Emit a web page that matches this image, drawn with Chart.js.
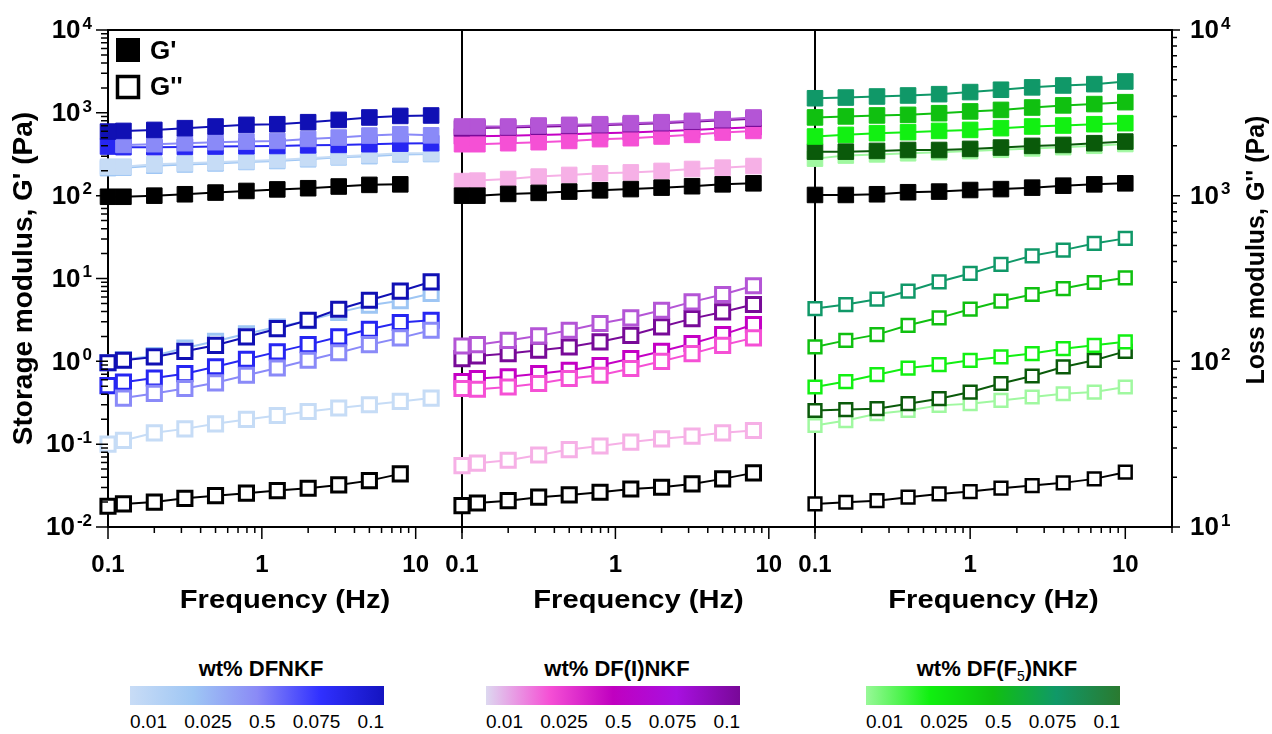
<!DOCTYPE html>
<html>
<head>
<meta charset="utf-8">
<script src="https://cdn.jsdelivr.net/npm/chart.js@4.4.1/dist/chart.umd.min.js"></script>
<style>
    body { margin: 0; background: #fff; width: 1272px; height: 734px; position: relative; overflow: hidden;
           font-family: 'Liberation Sans', Arial, sans-serif; }
    canvas { position: absolute; top: 0; }
    #c1 { left: 0; }
    #c2 { left: 440px; }
    #c3 { left: 793px; }
    .cb { position: absolute; top: 655px; width: 254px; }
    .cbt { text-align: center; font-weight: bold; font-size: 22px; height: 28px; line-height: 28px; margin-left: 8px; }
    .cbt sub { font-size: 14px; font-weight: normal; }
    .bar { height: 19px; margin-top: 3px; }
    .lbl { display: flex; justify-content: space-between; font-size: 19px; margin-top: 6px; }
</style>
</head>
<body>
<canvas id="c1" width="470" height="640"></canvas>
<canvas id="c2" width="385" height="640"></canvas>
<canvas id="c3" width="479" height="640"></canvas>
<div id="bars"></div>
<script>
const FONT = "'Liberation Sans', Arial, sans-serif";

// frequencies (Hz)
const freq1 = [0.1, 0.126, 0.2, 0.316, 0.5, 0.794, 1.26, 2, 3.16, 5, 7.94, 12.6];
const freq2 = [0.1, 0.126, 0.2, 0.316, 0.5, 0.794, 1.26, 2, 3.16, 5, 7.94];
const freq3 = [0.1, 0.158, 0.251, 0.398, 0.631, 1, 1.58, 2.51, 3.98, 6.31, 10];

// panel 1 - DFNKF  (Gp = G', Gpp = G'')
const p1Ctrl_Gp   = [97, 97, 100, 104, 109, 114, 119, 123, 129, 135, 137];
const p1Ctrl_Gpp  = [0.0178, 0.019, 0.020, 0.0222, 0.0239, 0.0256, 0.0275, 0.0294, 0.0322, 0.0363, 0.0438];
const p1_001_Gp   = [224, 224, 239, 246, 253, 262, 270, 283, 297, 310, 325, 325];
const p1_001_Gpp  = [0.10, 0.111, 0.137, 0.153, 0.176, 0.199, 0.222, 0.248, 0.273, 0.299, 0.328, 0.36];
const p1_0025_Gp  = [215, 218, 230, 238, 245, 255, 262, 275, 290, 300, 315, 318];
const p1_0025_Gpp = [0.96, 1.05, 1.17, 1.45, 1.75, 2.15, 2.6, 3.1, 3.9, 4.75, 5.4, 6.6];
const p1_05_Gp    = [null, 410, 418, 430, 442, 450, 458, 484, 503, 532, 552, 535];
const p1_05_Gpp   = [null, 0.36, 0.41, 0.47, 0.55, 0.68, 0.83, 1.03, 1.27, 1.59, 1.92, 2.37];
const p1_0075_Gp  = [392, 385, 385, 388, 392, 395, 398, 405, 410, 418, 425, 430];
const p1_0075_Gpp = [0.51, 0.56, 0.63, 0.71, 0.86, 1.06, 1.30, 1.59, 1.97, 2.44, 2.94, 3.13];
const p1_01_Gp    = [594, 605, 622, 653, 684, 716, 729, 771, 822, 879, 918, 929];
const p1_01_Gpp   = [0.96, 1.03, 1.13, 1.32, 1.56, 1.97, 2.48, 3.13, 4.26, 5.47, 7.03, 9.12];

// panel 2 - DF(I)NKF
const p2Ctrl_Gp   = [100, 100, 105, 108, 112, 116, 120, 125, 130, 137, 141];
const p2Ctrl_Gpp  = [0.0181, 0.0195, 0.0208, 0.0229, 0.0244, 0.0263, 0.0288, 0.0302, 0.0331, 0.0381, 0.045];
const p2_001_Gp   = [150, 152, 159, 170, 178, 186, 191, 199, 210, 218, 228];
const p2_001_Gpp  = [0.055, 0.059, 0.064, 0.074, 0.086, 0.095, 0.106, 0.116, 0.125, 0.137, 0.146];
const p2_0025_Gp  = [418, 418, 430, 442, 458, 481, 494, 518, 542, 578, 605];
const p2_0025_Gpp = [0.47, 0.46, 0.49, 0.54, 0.62, 0.68, 0.82, 1.0, 1.24, 1.56, 1.92];
const p2_05_Gp    = [520, 520, 530, 540, 552, 565, 580, 598, 620, 645, 670];
const p2_05_Gpp   = [0.57, 0.62, 0.65, 0.71, 0.78, 0.89, 1.08, 1.32, 1.64, 2.10, 2.78];
const p2_0075_Gp  = [684, 684, 684, 703, 716, 729, 750, 771, 800, 838, 879];
const p2_0075_Gpp = [1.53, 1.59, 1.79, 2.03, 2.37, 2.86, 3.35, 4.14, 5.22, 6.41, 8.17];
const p2_01_Gp    = [650, 655, 665, 680, 695, 710, 730, 750, 780, 815, 850];
const p2_01_Gpp   = [1.08, 1.16, 1.24, 1.36, 1.49, 1.72, 2.06, 2.61, 3.28, 3.95, 4.85];

// panel 3 - DF(F5)NKF
const p3Ctrl_Gp   = [102, 102, 104, 110, 112, 117, 120, 125, 132, 137, 141];
const p3Ctrl_Gpp  = [0.019, 0.0199, 0.0208, 0.0229, 0.0251, 0.0268, 0.0294, 0.0316, 0.0341, 0.0381, 0.0459];
const p3_001_Gp   = [280, 305, 315, 325, 335, 345, 358, 372, 385, 400, 420];
const p3_001_Gpp  = [0.168, 0.193, 0.233, 0.255, 0.294, 0.308, 0.337, 0.371, 0.406, 0.426, 0.49];
const p3_0025_Gp  = [518, 542, 568, 584, 605, 622, 653, 684, 703, 729, 750];
const p3_0025_Gpp = [0.49, 0.57, 0.69, 0.83, 0.91, 1.03, 1.13, 1.24, 1.42, 1.56, 1.72];
const p3_05_Gp    = [880, 905, 930, 945, 990, 1040, 1085, 1160, 1230, 1275, 1345];
const p3_05_Gpp   = [1.49, 1.79, 2.10, 2.72, 3.35, 4.26, 5.32, 6.41, 7.57, 8.95, 10.2];
const p3_0075_Gp  = [1500, 1530, 1575, 1620, 1680, 1780, 1900, 2030, 2140, 2220, 2390];
const p3_0075_Gpp = [4.34, 4.85, 5.62, 7.03, 9.12, 11.5, 14.8, 18.8, 22.0, 26.5, 30.5];
const p3_01_Gp    = [340, 340, 347, 356, 356, 367, 381, 399, 410, 430, 450];
const p3_01_Gpp   = [0.255, 0.262, 0.268, 0.308, 0.354, 0.426, 0.54, 0.665, 0.855, 1.03, 1.32];

// colour bars
const concLabels = ['0.01', '0.025', '0.5', '0.075', '0.1'];
const barTitles = ['wt% DFNKF', 'wt% DF(I)NKF', 'wt% DF(F<sub>5</sub>)NKF'];
const barBlue  = ['#c8dcf6', '#9ec6f4', '#8a8af6', '#3030ff', '#1414c0'];
const barPink  = ['#ddd8f0', '#f550d5', '#c000c0', '#a810e0', '#780898'];
const barGreen = ['#98f898', '#10f010', '#10c010', '#109868', '#2a7a30'];

const blues  = { c001: '#c6dcf6', c0025: '#9ec6f4', c05: '#8a8af8', c0075: '#2626f2', c01: '#1010b4' };
const pinks  = { c001: '#f6b0e6', c0025: '#f550d5', c05: '#c400c4', c0075: '#b455d6', c01: '#780a98' };
const greens = { c001: '#a0f8a0', c0025: '#12f012', c05: '#10c010', c0075: '#109868', c01: '#0a5a0a' };

Chart.defaults.font.family = FONT;
Chart.defaults.animation = false;

function isMajor(v) {
    const l = Math.log10(v);
    return Math.abs(l - Math.round(l)) < 1e-6;
}

function logTicks(min, max) {
    const out = [];
    for (let e = Math.floor(Math.log10(min)); e <= Math.ceil(Math.log10(max)); e++) {
        for (let m = 1; m < 10; m++) {
            const v = m * Math.pow(10, e);
            if (v >= min * 0.999 && v <= max * 1.001) out.push({ value: v });
        }
    }
    return out;
}

function pts(freqs, vals) {
    return vals.map((v, i) => v == null ? null : { x: freqs[i], y: v }).filter(Boolean);
}

function supLabel(ctx, v, x, y, align) {
    const exp = String(Math.round(Math.log10(v)));
    ctx.font = 'bold 26px ' + FONT;
    const w = ctx.measureText('10').width;
    ctx.font = 'bold 17px ' + FONT;
    const we = ctx.measureText(exp).width;
    const x0 = align === 'right' ? x - w - we - 2 : x;
    ctx.textAlign = 'left';
    ctx.textBaseline = 'middle';
    ctx.font = 'bold 26px ' + FONT;
    ctx.fillText('10', x0, y + 1);
    ctx.font = 'bold 17px ' + FONT;
    ctx.fillText(exp, x0 + w + 2, y - 6);
}

const decor = {
    id: 'decor',
    beforeDatasetsDraw(chart) {
        const { ctx, chartArea: a } = chart;
        ctx.save();
        ctx.strokeStyle = '#000';
        ctx.lineWidth = 2;
        ctx.strokeRect(a.left, a.top, a.right - a.left, a.bottom - a.top);
        ctx.restore();
    },
    afterDraw(chart, args, o) {
        const { ctx, chartArea: a, scales } = chart;
        ctx.save();
        ctx.strokeStyle = '#000';
        ctx.fillStyle = '#000';
        ctx.lineWidth = 1.5;
        ctx.beginPath();
        scales.x.ticks.forEach(t => {
            const p = scales.x.getPixelForValue(t.value);
            ctx.moveTo(p, a.bottom);
            ctx.lineTo(p, a.bottom + (isMajor(t.value) ? 12 : 6));
        });
        if (o.left) {
            scales.y.ticks.forEach(t => {
                const p = scales.y.getPixelForValue(t.value);
                ctx.moveTo(a.left, p);
                ctx.lineTo(a.left - (isMajor(t.value) ? 12 : 7), p);
            });
        }
        if (o.right) {
            scales.y2.ticks.forEach(t => {
                const p = scales.y2.getPixelForValue(t.value);
                ctx.moveTo(a.right, p);
                ctx.lineTo(a.right + (isMajor(t.value) ? 8 : 5), p);
            });
        }
        ctx.stroke();

        // x title
        ctx.font = 'bold 26px ' + FONT;
        ctx.textAlign = 'center';
        ctx.textBaseline = 'alphabetic';
        ctx.save();
        ctx.translate((a.left + a.right) / 2, 608);
        ctx.scale(1.12, 1);
        ctx.fillText('Frequency (Hz)', 0, 0);
        ctx.restore();

        if (o.left) {
            scales.y.ticks.filter(t => isMajor(t.value)).forEach(t => {
                supLabel(ctx, t.value, 92, scales.y.getPixelForValue(t.value), 'right');
            });
            ctx.save();
            ctx.translate(24, (a.top + a.bottom) / 2);
            ctx.rotate(-Math.PI / 2);
            ctx.font = 'bold 28px ' + FONT;
            ctx.textAlign = 'center';
            ctx.textBaseline = 'middle';
            ctx.fillText("Storage modulus, G' (Pa)", 0, 0);
            ctx.restore();
        }
        if (o.right) {
            scales.y2.ticks.filter(t => isMajor(t.value)).forEach(t => {
                supLabel(ctx, t.value, a.right + 18, scales.y2.getPixelForValue(t.value), 'left');
            });
            ctx.save();
            ctx.translate(a.right + 85, 250);
            ctx.rotate(-Math.PI / 2);
            ctx.font = 'bold 25px ' + FONT;
            ctx.textAlign = 'center';
            ctx.textBaseline = 'middle';
            ctx.fillText('Loss modulus, G\'\' (Pa)', 0, 0);
            ctx.restore();
        }
        if (o.legend) {
            ctx.fillRect(116, 38, 24, 24);
            ctx.lineWidth = 3.5;
            ctx.strokeRect(117.5, 76.5, 21, 21);
            ctx.font = 'bold 26px ' + FONT;
            ctx.textAlign = 'left';
            ctx.textBaseline = 'middle';
            ctx.fillText("G'", 150, 52);
            ctx.fillText("G''", 150, 88);
        }
        ctx.restore();
    }
};

function xLabel(v) {
    if (!isMajor(v)) return '';
    return v < 1 ? '0.1' : String(Math.round(v));
}

function makePanel(id, freqs, series, opts) {
    const datasets = [];
    series.forEach(s => {
        datasets.push({
            data: pts(freqs, s.gp), borderColor: s.c, backgroundColor: s.c, borderWidth: 2,
            pointStyle: 'rect', pointRadius: 11, pointBackgroundColor: s.c, pointBorderColor: s.c,
            pointBorderWidth: 1, clip: false
        });
        datasets.push({
            data: pts(freqs, s.gpp), borderColor: s.c, backgroundColor: '#fff', borderWidth: 2,
            pointStyle: 'rect', pointRadius: opts.openR, pointBackgroundColor: '#fff', pointBorderColor: s.c,
            pointBorderWidth: opts.openW, clip: false
        });
    });
    const scales = {
        x: {
            type: 'logarithmic', min: 0.1, max: 20,
            afterBuildTicks: s => { s.ticks = logTicks(s.min, s.max); },
            afterFit: s => { s.height = 113; s.paddingLeft = 0; s.paddingRight = 0; },
            grid: { display: false, drawTicks: false },
            border: { display: false },
            ticks: { autoSkip: false, maxRotation: 0, padding: 24, color: '#000',
                     font: { size: 24, weight: 'bold' }, callback: xLabel }
        },
        y: {
            type: 'logarithmic', min: 0.01, max: 10000,
            afterBuildTicks: s => { s.ticks = logTicks(s.min, s.max); },
            afterFit: s => { s.width = opts.leftW; s.paddingTop = 0; s.paddingBottom = 0; },
            grid: { display: false, drawTicks: false },
            border: { display: false },
            ticks: { display: false }
        }
    };
    if (opts.right) {
        scales.y2 = {
            type: 'logarithmic', position: 'right', min: 10, max: 10000,
            afterBuildTicks: s => { s.ticks = logTicks(s.min, s.max); },
            afterFit: s => { s.width = 100; s.paddingTop = 0; s.paddingBottom = 0; },
            grid: { display: false, drawTicks: false },
            border: { display: false },
            ticks: { display: false }
        };
    }
    new Chart(document.getElementById(id), {
        type: 'line',
        data: { datasets: datasets },
        options: {
            responsive: false,
            events: [],
            layout: { autoPadding: false, padding: { top: 30, right: opts.padR, bottom: 0, left: 0 } },
            scales: scales,
            plugins: {
                legend: { display: false },
                tooltip: { enabled: false },
                decor: { left: opts.left, right: opts.right, legend: opts.legend }
            }
        },
        plugins: [decor]
    });
}

// Panel 1
makePanel('c1', freq1, [
    { c: '#000', gp: p1Ctrl_Gp, gpp: p1Ctrl_Gpp },
    { c: blues.c01, gp: p1_01_Gp, gpp: p1_01_Gpp },
    { c: blues.c05, gp: p1_05_Gp, gpp: p1_05_Gpp },
    { c: blues.c0075, gp: p1_0075_Gp, gpp: p1_0075_Gpp },
    { c: blues.c001, gp: p1_001_Gp, gpp: p1_001_Gpp },
    { c: blues.c0025, gp: p1_0025_Gp, gpp: p1_0025_Gpp }
], { leftW: 108, padR: 8, left: true, right: false, legend: true, openR: 10, openW: 3 });

// Panel 2
makePanel('c2', freq2, [
    { c: '#000', gp: p2Ctrl_Gp, gpp: p2Ctrl_Gpp },
    { c: pinks.c001, gp: p2_001_Gp, gpp: p2_001_Gpp },
    { c: pinks.c0075, gp: p2_0075_Gp, gpp: p2_0075_Gpp },
    { c: pinks.c01, gp: p2_01_Gp, gpp: p2_01_Gpp },
    { c: pinks.c0025, gp: p2_0025_Gp, gpp: p2_0025_Gpp },
    { c: pinks.c05, gp: p2_05_Gp, gpp: p2_05_Gpp }
], { leftW: 22, padR: 10, left: false, right: false, legend: false, openR: 10, openW: 3 });

// Panel 3
makePanel('c3', freq3, [
    { c: '#000', gp: p3Ctrl_Gp, gpp: p3Ctrl_Gpp },
    { c: greens.c0075, gp: p3_0075_Gp, gpp: p3_0075_Gpp },
    { c: greens.c05, gp: p3_05_Gp, gpp: p3_05_Gpp },
    { c: greens.c0025, gp: p3_0025_Gp, gpp: p3_0025_Gpp },
    { c: greens.c01, gp: p3_01_Gp, gpp: p3_01_Gpp },
    { c: greens.c001, gp: p3_001_Gp, gpp: p3_001_Gpp }
], { leftW: 22, padR: 0, left: false, right: true, legend: false, openR: 9, openW: 2.5 });

// colour bars
const barLeft = [130, 486, 866];
[barBlue, barPink, barGreen].forEach((stops, i) => {
    const d = document.createElement('div');
    d.className = 'cb';
    d.style.left = barLeft[i] + 'px';
    d.innerHTML = '<div class="cbt">' + barTitles[i] + '</div>' +
        '<div class="bar" style="background:linear-gradient(to right,' + stops.join(',') + ')"></div>' +
        '<div class="lbl">' + concLabels.map(l => '<span>' + l + '</span>').join('') + '</div>';
    document.getElementById('bars').appendChild(d);
});
</script>
</body>
</html>
